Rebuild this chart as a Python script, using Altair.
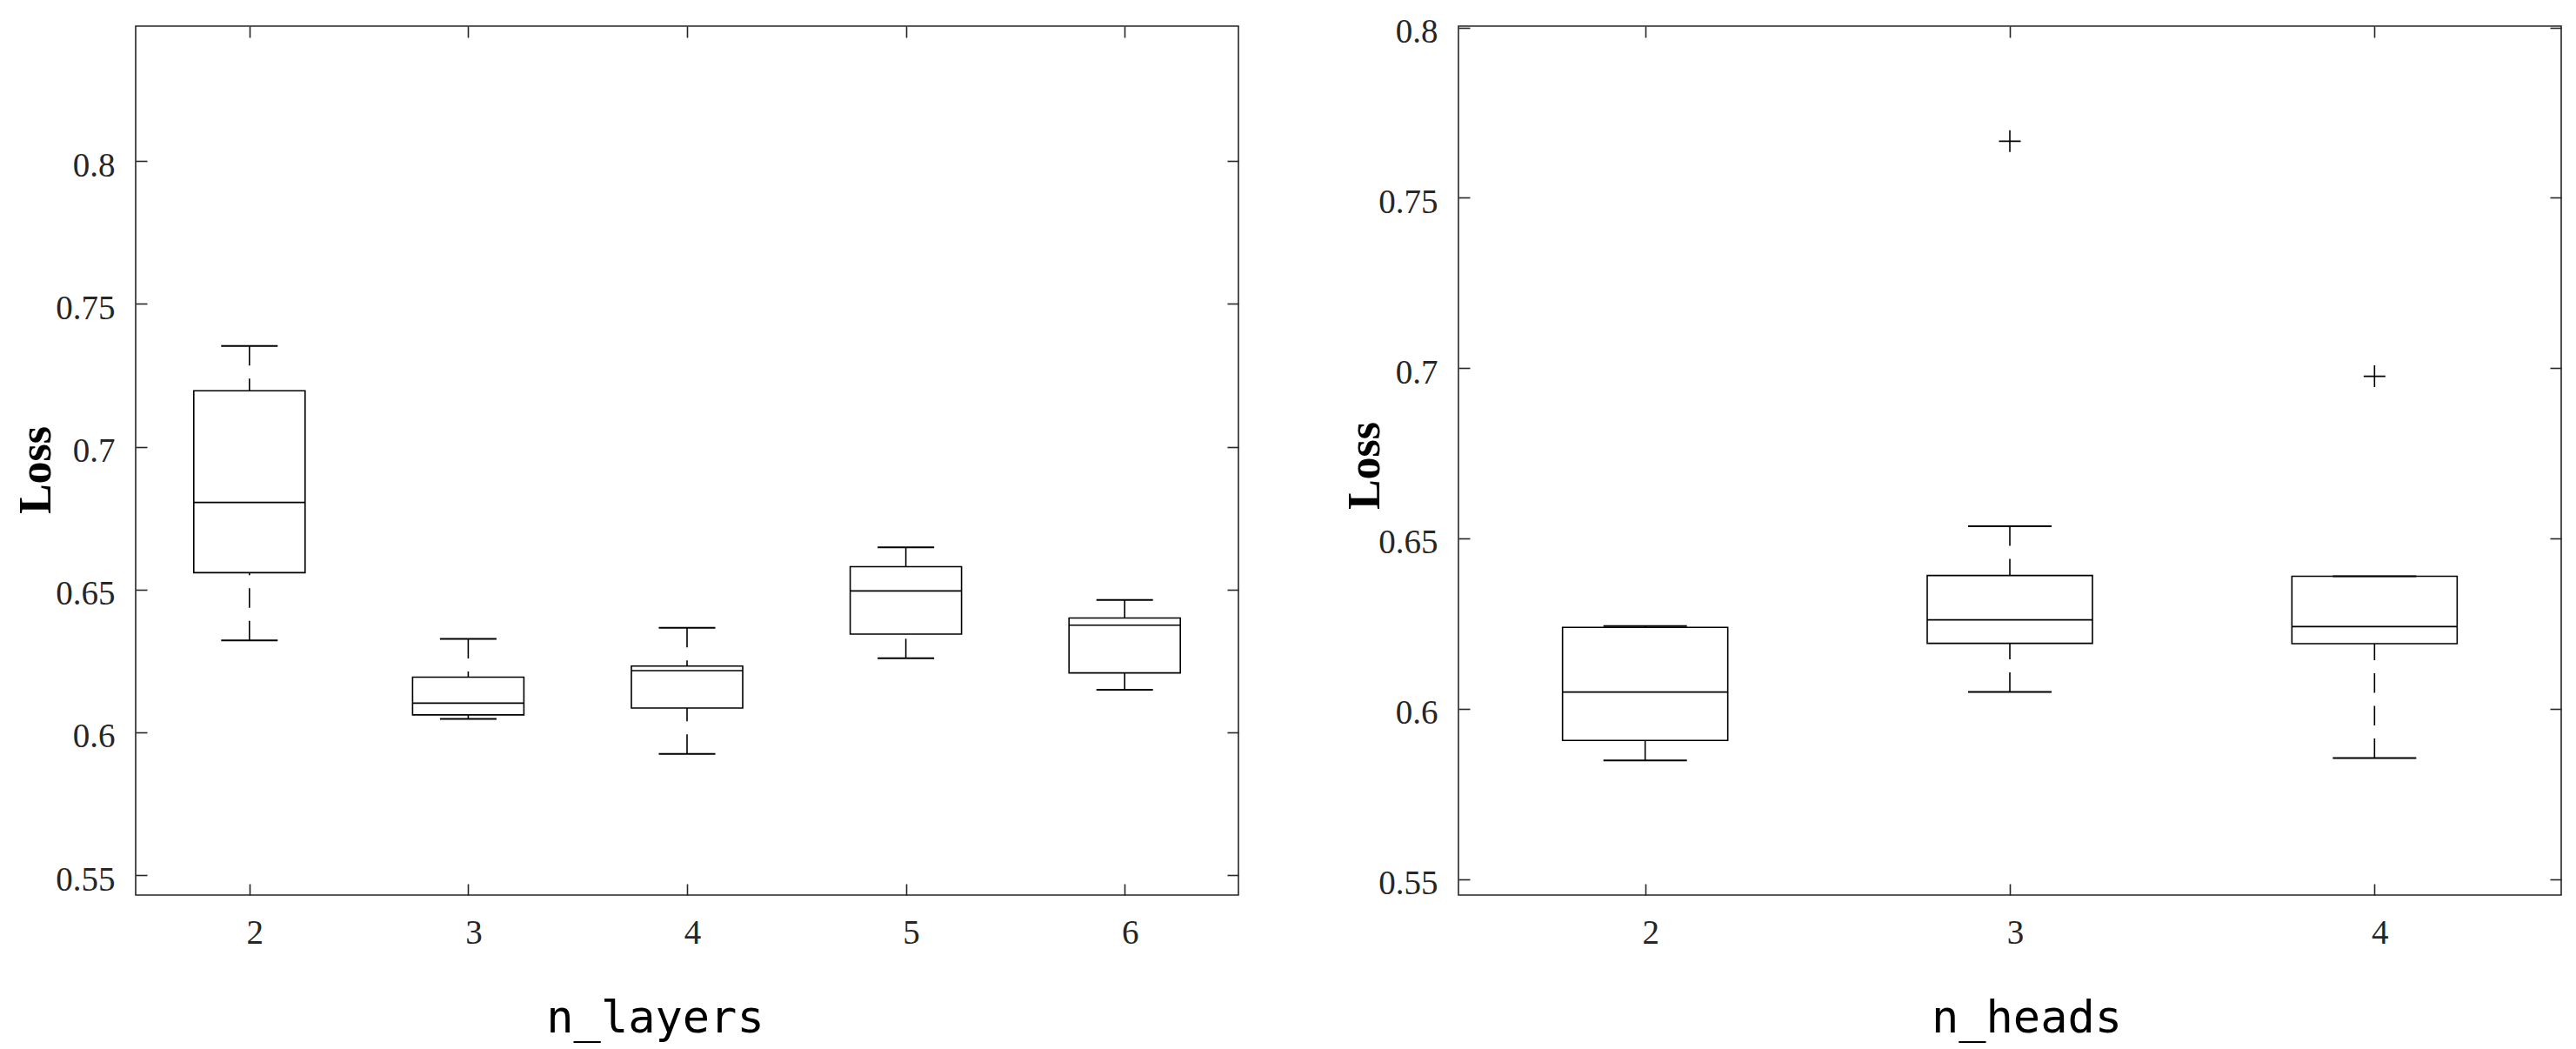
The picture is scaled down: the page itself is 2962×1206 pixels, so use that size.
import altair as alt
import pandas as pd

# ---- n_layers panel (box statistics) ----
layers_cat = [2, 3, 4, 5, 6]
layers_lower = [0.6322, 0.6047, 0.5924, 0.6259, 0.6149]
layers_q1 = [0.6559, 0.6061, 0.6085, 0.6344, 0.6208]
layers_median = [0.6805, 0.6102, 0.6216, 0.6495, 0.6375]
layers_q3 = [0.7196, 0.6193, 0.6232, 0.6580, 0.6400]
layers_upper = [0.7353, 0.6327, 0.6366, 0.6648, 0.6463]
layers_out_cat = []
layers_out_val = []

# ---- n_heads panel ----
heads_cat = [2, 3, 4]
heads_lower = [0.5848, 0.6049, 0.5855]
heads_q1 = [0.5907, 0.6192, 0.6191]
heads_median = [0.6049, 0.6261, 0.6241]
heads_q3 = [0.6239, 0.6391, 0.6389]
heads_upper = [0.6243, 0.6536, 0.6389]
heads_out_cat = [3, 4]
heads_out_val = [0.7666, 0.6976]

y_ticks = [0.55, 0.6, 0.65, 0.7, 0.75, 0.8]

AX = "#262626"
LW = 1.6
TICK = 13
PLUS = "M-1,0H1M0,-1V1"
LABEL = dict(labelFont="Liberation Serif", labelFontSize=39, labelColor=AX,
             tickColor=AX, tickWidth=LW)


def panel(cats, lower, q1, med, q3, upper, out_cat, out_val,
          xdomain, ydomain, xtitle, box_w, cap_w, xtitle_x, ytitle_x, ytitle_y):
    df = pd.DataFrame(dict(cat=cats, lower=lower, q1=q1, median=med, q3=q3, upper=upper))
    xs = alt.Scale(domain=xdomain, nice=False, zero=False)
    ys = alt.Scale(domain=ydomain, nice=False, zero=False)
    xaxis = alt.Axis(values=cats, format="d", orient="bottom", offset=-TICK, tickSize=TICK,
                     domain=False, grid=False, labelPadding=24, labelOffset=6,
                     title=xtitle, titleX=xtitle_x, titleY=170, titleAlign="center",
                     titleBaseline="alphabetic", titleFont="DejaVu Sans Mono",
                     titleFontSize=52, titleFontWeight="normal", titleColor="black", **LABEL)
    yaxis = alt.Axis(values=y_ticks, format="~g", orient="left", offset=-TICK, tickSize=TICK,
                     domain=False, grid=False, labelPadding=24, labelOffset=5,
                     title="Loss", titleX=ytitle_x, titleY=ytitle_y, titleAngle=270,
                     titleAlign="center", titleBaseline="alphabetic",
                     titleFont="Liberation Serif", titleFontSize=52, titleFontWeight="bold",
                     titleColor="black", **LABEL)
    X = alt.X("cat:Q", scale=xs, axis=xaxis)

    def Y(f):
        return alt.Y(f + ":Q", scale=ys, axis=yaxis)

    base = alt.Chart(df)
    wu = base.mark_rule(strokeDash=[22.5, 15], color="black", strokeWidth=LW).encode(
        x=X, y=Y("upper"), y2="q3")
    wl = base.mark_rule(strokeDash=[22.5, 15], color="black", strokeWidth=LW).encode(
        x=X, y=Y("lower"), y2="q1")
    box = base.mark_bar(size=box_w, fill="white", stroke="black", strokeWidth=LW).encode(
        x=X, y=Y("q1"), y2="q3")
    mline = base.mark_tick(orient="horizontal", size=box_w, thickness=LW, color="black",
                           opacity=1).encode(x=X, y=Y("median"))
    cu = base.mark_tick(orient="horizontal", size=cap_w, thickness=LW + 0.4, color="black",
                        opacity=1).encode(x=X, y=Y("upper"))
    cl = base.mark_tick(orient="horizontal", size=cap_w, thickness=LW + 0.4, color="black",
                        opacity=1).encode(x=X, y=Y("lower"))
    parts = [wu, wl, box, mline, cu, cl]
    if out_cat:
        odf = pd.DataFrame(dict(cat=out_cat, val=out_val))
        outl = alt.Chart(odf).mark_point(shape=PLUS, size=625, filled=False, stroke="black",
                                         strokeWidth=LW, opacity=1).encode(x=X, y=Y("val"))
        parts.append(outl)
    inner = alt.layer(*parts)

    mirror = base.mark_point(opacity=0).encode(
        x=alt.X("cat:Q", scale=xs,
                axis=alt.Axis(orient="top", values=cats, labels=False, title=None,
                              offset=-TICK, tickSize=TICK, domain=False, grid=False,
                              tickColor=AX, tickWidth=LW)),
        y=alt.Y("median:Q", scale=ys,
                axis=alt.Axis(orient="right", values=y_ticks, labels=False, title=None,
                              offset=-TICK, tickSize=TICK, domain=False, grid=False,
                              tickColor=AX, tickWidth=LW)),
    )
    return alt.layer(inner, mirror).resolve_axis(x="independent", y="independent").properties(
        width=1268, height=999)


left = panel(layers_cat, layers_lower, layers_q1, layers_median, layers_q3, layers_upper,
             layers_out_cat, layers_out_val, [1.5, 6.5], [0.5430, 0.8473], "n_layers",
             128, 65, 597, -112, 510)
right = panel(heads_cat, heads_lower, heads_q1, heads_median, heads_q3, heads_upper,
              heads_out_cat, heads_out_val, [1.5, 4.5], [0.5453, 0.8004], "n_heads",
              190, 96, 653, -105, 505)

chart = alt.hconcat(left, right, spacing=116).properties(
    padding={"left": 6, "top": 8, "right": 5, "bottom": 5},
    background="white",
).configure_view(
    stroke=AX, strokeWidth=LW
)

chart.save("out.html", embed_options={"renderer": "svg", "actions": False})
